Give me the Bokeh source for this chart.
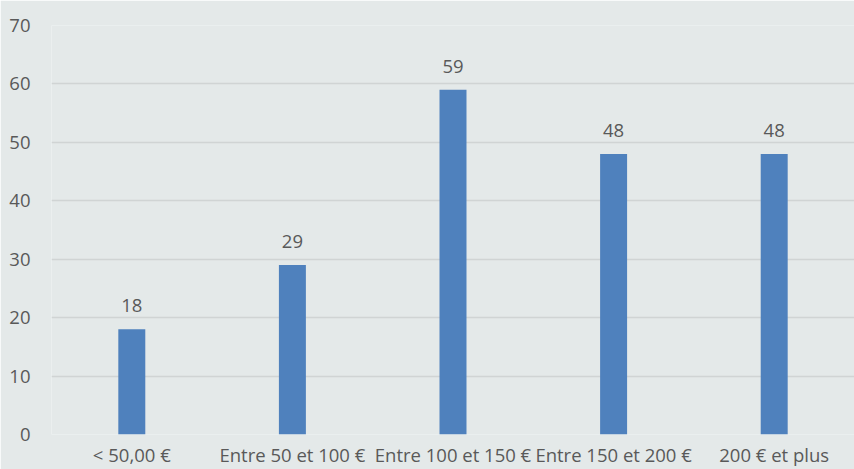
from bokeh.plotting import figure
from bokeh.models import ColumnDataSource, LabelSet, FactorRange, SingleIntervalTicker
from bokeh.core.properties import value
from bokeh.embed import file_html
from bokeh.resources import INLINE

# Spending brackets and number of responses in each
categories = ["< 50,00 €", "Entre 50 et 100 €", "Entre 100 et 150 €", "Entre 150 et 200 €", "200 € et plus"]
counts = [18, 29, 59, 48, 48]

BG = "#E4E9E9"
BAR = "#4F81BD"
TEXT = "#595959"
FONT = "Open Sans"
SIZE = "18.5px"

source = ColumnDataSource(data=dict(cat=categories, n=counts, label=[str(v) for v in counts]))

p = figure(
    x_range=FactorRange(*categories, range_padding=0),
    y_range=(0, 70),
    width=854, height=469,
    output_backend="svg", toolbar_location=None,
    background_fill_color=BG, border_fill_color=BG,
    min_border_left=51, min_border_right=0, min_border_top=25, min_border_bottom=35,
)
p.outline_line_color = None

p.vbar(x="cat", top="n", width=0.168, source=source, color=BAR, line_color=None)

labels = LabelSet(x="cat", y="n", text="label", source=source,
                  text_align="center", text_baseline="alphabetic", y_offset=17,
                  text_font=value(FONT), text_font_size=value(SIZE), text_color=TEXT)
p.add_layout(labels)

# Axes: labels only, no lines or ticks
for ax in (p.xaxis[0], p.yaxis[0]):
    ax.axis_line_color = None
    ax.major_tick_line_color = None
    ax.minor_tick_line_color = None
    ax.major_tick_in = 0
    ax.major_tick_out = 0
    ax.major_label_text_font = FONT
    ax.major_label_text_font_size = SIZE
    ax.major_label_text_color = TEXT

p.yaxis.ticker = SingleIntervalTicker(interval=10)
p.yaxis.major_label_standoff = 17
p.xaxis.major_label_standoff = 7

p.xgrid.grid_line_color = None
p.ygrid.grid_line_color = "#D0D4D4"
p.ygrid.grid_line_width = 1.5

open("out.html", "w").write(file_html(p, INLINE))
